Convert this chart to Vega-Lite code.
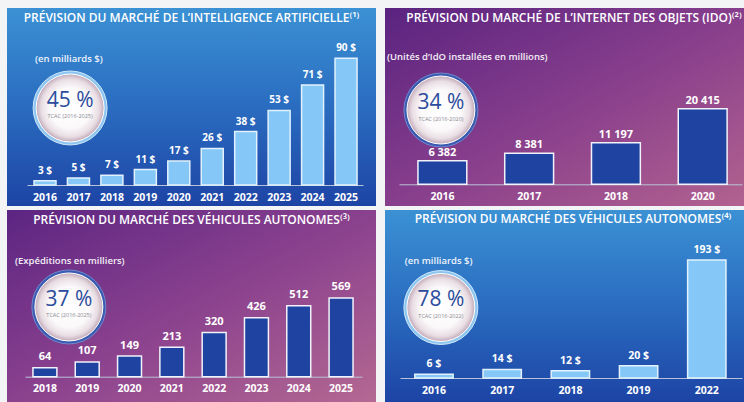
{
  "$schema": "https://vega.github.io/schema/vega-lite/v6.json",
  "background": "#f3f4f6",
  "padding": {"left": 7, "top": 8, "right": 0, "bottom": 0},
  "spacing": 4,
  "config": {
    "view": {"stroke": null},
    "font": "Open Sans",
    "title": {"frame": "group", "anchor": "middle", "color": "#ffffff", "font": "Open Sans", "fontSize": 12, "fontWeight": 600, "baseline": "middle"},
    "axisX": {"domainColor": "#b9c3d6", "domainWidth": 1, "ticks": false, "tickSize": 0, "labelColor": "#ffffff", "labelFont": "Open Sans", "labelFontWeight": "bold", "labelFontSize": 10.5, "labelAngle": 0, "labelBaseline": "middle", "labelPadding": 12, "title": null, "grid": false}
  },
  "vconcat": [
    {
      "spacing": 9,
      "hconcat": [
        {
          "width": 369, "height": 198,
          "view": {"stroke": null, "fill": {"gradient": "linear", "x1": 0, "y1": 0, "x2": 0, "y2": 1, "stops": [{"offset": 0, "color": "#3b91d4"}, {"offset": 0.5, "color": "#2a6cc0"}, {"offset": 1, "color": "#1d44a5"}]}},
          "title": {"text": "PRÉVISION DU MARCHÉ DE L’INTELLIGENCE ARTIFICIELLE⁽¹⁾", "offset": -17},
          "layer": [
            {
              "data": {"values": [
                {"year": "2016", "value": 3, "label": "3 $"},
                {"year": "2017", "value": 5, "label": "5 $"},
                {"year": "2018", "value": 7, "label": "7 $"},
                {"year": "2019", "value": 11, "label": "11 $"},
                {"year": "2020", "value": 17, "label": "17 $"},
                {"year": "2021", "value": 26, "label": "26 $"},
                {"year": "2022", "value": 38, "label": "38 $"},
                {"year": "2023", "value": 53, "label": "53 $"},
                {"year": "2024", "value": 71, "label": "71 $"},
                {"year": "2025", "value": 90, "label": "90 $"}
              ]},
              "encoding": {
                "x": {"field": "year", "type": "ordinal", "scale": {"range": [20, 356], "paddingInner": 0.342, "paddingOuter": 0.194, "align": 0.54}, "axis": {"offset": -21}},
                "y": {"field": "value", "type": "quantitative", "scale": {"domain": [-14.9, 125.7], "nice": false, "zero": false}, "axis": null}
              },
              "layer": [
                {"mark": {"type": "bar", "fill": "#85c8f8", "stroke": "#e2f1fc", "strokeWidth": 1.5}, "encoding": {"y2": {"datum": 0}}},
                {"mark": {"type": "text", "color": "#ffffff", "font": "Open Sans", "fontWeight": "bold", "fontSize": 10, "baseline": "alphabetic", "dy": -7}, "encoding": {"text": {"field": "label"}}}
              ]
            },
            {
              "data": {"values": [{"note": "(en milliards $)"}]},
              "mark": {"type": "text", "color": "#eef3fb", "font": "Open Sans", "fontWeight": 600, "fontSize": 9.5, "align": "left", "baseline": "middle", "dx": 1},
              "encoding": {"x": {"datum": "2016", "type": "ordinal", "bandPosition": 0}, "y": {"datum": 89.5, "type": "quantitative"}, "text": {"field": "note"}}
            },
            {
              "data": {"values": [{"cagr": "45 %", "period": "TCAC (2016-2025)"}]},
              "encoding": {"x": {"datum": "2016", "type": "ordinal", "bandPosition": 1.64}, "y": {"datum": 54.7, "type": "quantitative"}},
              "layer": [
                {"mark": {"type": "point", "shape": "circle", "filled": true, "size": 5476, "fill": "#8cc6f0", "stroke": "#cfe7fa", "strokeWidth": 1, "opacity": 1}},
                {"mark": {"type": "point", "shape": "circle", "filled": true, "size": 4624, "opacity": 1, "stroke": "#ffffff", "strokeWidth": 1, "fill": {"gradient": "radial", "x1": 0.5, "y1": 0.5, "r1": 0, "x2": 0.5, "y2": 0.5, "r2": 0.5, "stops": [{"offset": 0, "color": "#ffffff"}, {"offset": 0.6, "color": "#fbf9fa"}, {"offset": 0.85, "color": "#e8dde3"}, {"offset": 1, "color": "#c2a9b8"}]}}},
                {"mark": {"type": "text", "color": "#2b4c9c", "font": "Open Sans", "fontSize": 21, "baseline": "middle", "dy": -7}, "encoding": {"text": {"field": "cagr"}}},
                {"mark": {"type": "text", "color": "#8a8a92", "font": "Open Sans", "fontSize": 5.5, "baseline": "middle", "dy": 8.5}, "encoding": {"text": {"field": "period"}}}
              ]
            }
          ]
        },
        {
          "width": 359, "height": 198,
          "view": {"stroke": null, "fill": {"gradient": "linear", "x1": 0, "y1": 0, "x2": 1, "y2": 1, "stops": [{"offset": 0, "color": "#5a2380"}, {"offset": 0.5, "color": "#873e8c"}, {"offset": 1, "color": "#b2628f"}]}},
          "title": {"text": "PRÉVISION DU MARCHÉ DE L’INTERNET DES OBJETS (IDO)⁽²⁾", "offset": -17, "dx": 9.5},
          "layer": [
            {
              "data": {"values": [
                {"year": "2016", "value": 6382, "label": "6 382"},
                {"year": "2017", "value": 8381, "label": "8 381"},
                {"year": "2018", "value": 11197, "label": "11 197"},
                {"year": "2020", "value": 20415, "label": "20 415"}
              ]},
              "encoding": {
                "x": {"field": "year", "type": "ordinal", "scale": {"range": [14, 357], "paddingInner": 0.437, "paddingOuter": 0.195, "align": 0.56}, "axis": {"offset": -21.7}},
                "y": {"field": "value", "type": "quantitative", "scale": {"domain": [-5865, 47649], "nice": false, "zero": false}, "axis": null}
              },
              "layer": [
                {"mark": {"type": "bar", "fill": "#1e43a0", "stroke": "#f2f2fa", "strokeWidth": 1.5}, "encoding": {"y2": {"datum": 0}}},
                {"mark": {"type": "text", "color": "#ffffff", "font": "Open Sans", "fontWeight": "bold", "fontSize": 11, "baseline": "alphabetic", "dy": -5}, "encoding": {"text": {"field": "label"}}}
              ]
            },
            {
              "data": {"values": [{"note": "(Unités d’IdO installées en millions)"}]},
              "mark": {"type": "text", "color": "#f3eef6", "font": "Open Sans", "fontWeight": 600, "fontSize": 9.5, "align": "left", "baseline": "middle", "dx": -31},
              "encoding": {"x": {"datum": "2016", "type": "ordinal", "bandPosition": 0}, "y": {"datum": 34400, "type": "quantitative"}, "text": {"field": "note"}}
            },
            {
              "data": {"values": [{"cagr": "34 %", "period": "TCAC (2016-2020)"}]},
              "encoding": {"x": {"datum": "2016", "type": "ordinal", "bandPosition": 0.47}, "y": {"datum": 20081, "type": "quantitative"}},
              "layer": [
                {"mark": {"type": "point", "shape": "circle", "filled": true, "size": 5476, "fill": "#3b5bb0", "stroke": "#7088cf", "strokeWidth": 1, "opacity": 1}},
                {"mark": {"type": "point", "shape": "circle", "filled": true, "size": 4624, "opacity": 1, "stroke": "#ffffff", "strokeWidth": 1, "fill": {"gradient": "radial", "x1": 0.5, "y1": 0.5, "r1": 0, "x2": 0.5, "y2": 0.5, "r2": 0.5, "stops": [{"offset": 0, "color": "#ffffff"}, {"offset": 0.6, "color": "#fbf9fa"}, {"offset": 0.85, "color": "#e8dde3"}, {"offset": 1, "color": "#c2a9b8"}]}}},
                {"mark": {"type": "text", "color": "#2b4c9c", "font": "Open Sans", "fontSize": 21, "baseline": "middle", "dy": -7}, "encoding": {"text": {"field": "cagr"}}},
                {"mark": {"type": "text", "color": "#8a8a92", "font": "Open Sans", "fontSize": 5.5, "baseline": "middle", "dy": 8.5}, "encoding": {"text": {"field": "period"}}}
              ]
            }
          ]
        }
      ]
    },
    {
      "spacing": 9,
      "hconcat": [
        {
          "width": 369, "height": 192,
          "view": {"stroke": null, "fill": {"gradient": "linear", "x1": 0, "y1": 0, "x2": 1, "y2": 1, "stops": [{"offset": 0, "color": "#5c2582"}, {"offset": 0.5, "color": "#8a418e"}, {"offset": 1, "color": "#b46892"}]}},
          "title": {"text": "PRÉVISION DU MARCHÉ DES VÉHICULES AUTONOMES⁽³⁾", "offset": -17},
          "layer": [
            {
              "data": {"values": [
                {"year": "2018", "value": 64, "label": "64"},
                {"year": "2019", "value": 107, "label": "107"},
                {"year": "2020", "value": 149, "label": "149"},
                {"year": "2021", "value": 213, "label": "213"},
                {"year": "2022", "value": 320, "label": "320"},
                {"year": "2023", "value": 426, "label": "426"},
                {"year": "2024", "value": 512, "label": "512"},
                {"year": "2025", "value": 569, "label": "569"}
              ]},
              "encoding": {
                "x": {"field": "year", "type": "ordinal", "scale": {"range": [18, 355], "paddingInner": 0.434, "paddingOuter": 0.2, "align": 0.47}, "axis": {"offset": -25.3}},
                "y": {"field": "value", "type": "quantitative", "scale": {"domain": [-183, 1205], "nice": false, "zero": false}, "axis": null}
              },
              "layer": [
                {"mark": {"type": "bar", "fill": "#1e43a0", "stroke": "#f2f2fa", "strokeWidth": 1.5}, "encoding": {"y2": {"datum": 0}}},
                {"mark": {"type": "text", "color": "#ffffff", "font": "Open Sans", "fontWeight": "bold", "fontSize": 11, "baseline": "alphabetic", "dy": -7.5}, "encoding": {"text": {"field": "label"}}}
              ]
            },
            {
              "data": {"values": [{"note": "(Expéditions en milliers)"}]},
              "mark": {"type": "text", "color": "#f3eef6", "font": "Open Sans", "fontWeight": 600, "fontSize": 9.5, "align": "left", "baseline": "middle", "dx": -18},
              "encoding": {"x": {"datum": "2018", "type": "ordinal", "bandPosition": 0}, "y": {"datum": 836.6, "type": "quantitative"}, "text": {"field": "note"}}
            },
            {
              "data": {"values": [{"cagr": "37 %", "period": "TCAC (2016-2025)"}]},
              "encoding": {"x": {"datum": "2018", "type": "ordinal", "bandPosition": 1.5}, "y": {"datum": 504, "type": "quantitative"}},
              "layer": [
                {"mark": {"type": "point", "shape": "circle", "filled": true, "size": 5476, "fill": "#3b5bb0", "stroke": "#7088cf", "strokeWidth": 1, "opacity": 1}},
                {"mark": {"type": "point", "shape": "circle", "filled": true, "size": 4624, "opacity": 1, "stroke": "#ffffff", "strokeWidth": 1, "fill": {"gradient": "radial", "x1": 0.5, "y1": 0.5, "r1": 0, "x2": 0.5, "y2": 0.5, "r2": 0.5, "stops": [{"offset": 0, "color": "#ffffff"}, {"offset": 0.6, "color": "#fbf9fa"}, {"offset": 0.85, "color": "#e8dde3"}, {"offset": 1, "color": "#c2a9b8"}]}}},
                {"mark": {"type": "text", "color": "#2b4c9c", "font": "Open Sans", "fontSize": 21, "baseline": "middle", "dy": -7}, "encoding": {"text": {"field": "cagr"}}},
                {"mark": {"type": "text", "color": "#8a8a92", "font": "Open Sans", "fontSize": 5.5, "baseline": "middle", "dy": 8.5}, "encoding": {"text": {"field": "period"}}}
              ]
            }
          ]
        },
        {
          "width": 359, "height": 192,
          "view": {"stroke": null, "fill": {"gradient": "linear", "x1": 0, "y1": 0, "x2": 0, "y2": 1, "stops": [{"offset": 0, "color": "#3b91d4"}, {"offset": 0.5, "color": "#2a6cc0"}, {"offset": 1, "color": "#1d44a5"}]}},
          "title": {"text": "PRÉVISION DU MARCHÉ DES VÉHICULES AUTONOMES⁽⁴⁾", "offset": -16, "dx": 8.5},
          "layer": [
            {
              "data": {"values": [
                {"year": "2016", "value": 6, "label": "6 $"},
                {"year": "2017", "value": 14, "label": "14 $"},
                {"year": "2018", "value": 12, "label": "12 $"},
                {"year": "2019", "value": 20, "label": "20 $"},
                {"year": "2022", "value": 193, "label": "193 $"}
              ]},
              "encoding": {
                "x": {"field": "year", "type": "ordinal", "scale": {"range": [15, 357], "paddingInner": 0.438, "paddingOuter": 0.226, "align": 0.48}, "axis": {"offset": -24}},
                "y": {"field": "value", "type": "quantitative", "scale": {"domain": [-39.2, 274.5], "nice": false, "zero": false}, "axis": null}
              },
              "layer": [
                {"mark": {"type": "bar", "fill": "#85c8f8", "stroke": "#e2f1fc", "strokeWidth": 1.5}, "encoding": {"y2": {"datum": 0}}},
                {"mark": {"type": "text", "color": "#ffffff", "font": "Open Sans", "fontWeight": "bold", "fontSize": 10.5, "baseline": "alphabetic", "dy": -7}, "encoding": {"text": {"field": "label"}}}
              ]
            },
            {
              "data": {"values": [{"note": "(en milliards $)"}]},
              "mark": {"type": "text", "color": "#eef3fb", "font": "Open Sans", "fontWeight": 600, "fontSize": 9.5, "align": "left", "baseline": "middle", "dx": -10},
              "encoding": {"x": {"datum": "2016", "type": "ordinal", "bandPosition": 0}, "y": {"datum": 191.2, "type": "quantitative"}, "text": {"field": "note"}}
            },
            {
              "data": {"values": [{"cagr": "78 %", "period": "TCAC (2016-2022)"}]},
              "encoding": {"x": {"datum": "2016", "type": "ordinal", "bandPosition": 0.68}, "y": {"datum": 115.2, "type": "quantitative"}},
              "layer": [
                {"mark": {"type": "point", "shape": "circle", "filled": true, "size": 5476, "fill": "#8cc6f0", "stroke": "#cfe7fa", "strokeWidth": 1, "opacity": 1}},
                {"mark": {"type": "point", "shape": "circle", "filled": true, "size": 4624, "opacity": 1, "stroke": "#ffffff", "strokeWidth": 1, "fill": {"gradient": "radial", "x1": 0.5, "y1": 0.5, "r1": 0, "x2": 0.5, "y2": 0.5, "r2": 0.5, "stops": [{"offset": 0, "color": "#ffffff"}, {"offset": 0.6, "color": "#fbf9fa"}, {"offset": 0.85, "color": "#e8dde3"}, {"offset": 1, "color": "#c2a9b8"}]}}},
                {"mark": {"type": "text", "color": "#2b4c9c", "font": "Open Sans", "fontSize": 21, "baseline": "middle", "dy": -7}, "encoding": {"text": {"field": "cagr"}}},
                {"mark": {"type": "text", "color": "#8a8a92", "font": "Open Sans", "fontSize": 5.5, "baseline": "middle", "dy": 8.5}, "encoding": {"text": {"field": "period"}}}
              ]
            }
          ]
        }
      ]
    }
  ]
}
